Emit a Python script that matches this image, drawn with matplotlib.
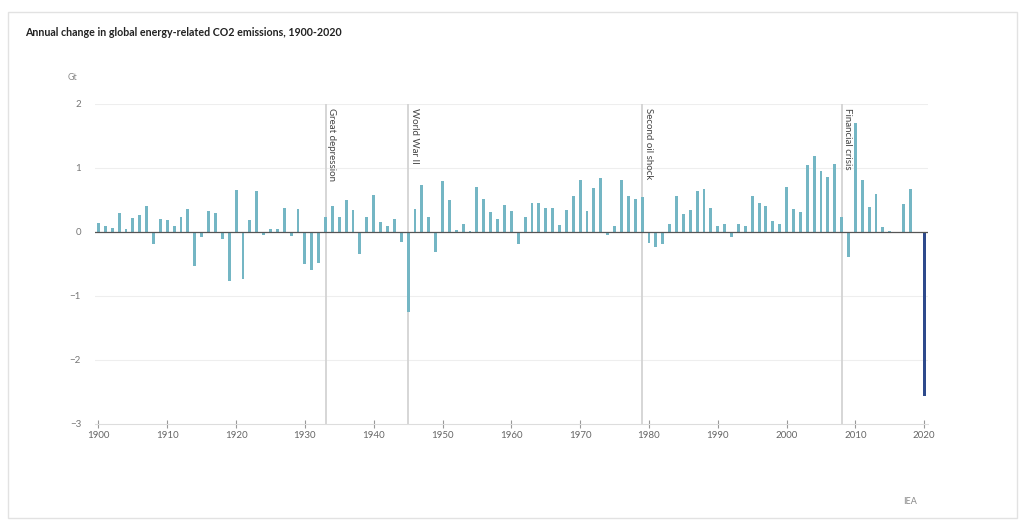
import matplotlib.pyplot as plt
from matplotlib.patches import Rectangle

# Annual change in global energy-related CO2 emissions (Gt), 1900-2020
years = list(range(1900, 2021))
change = [
    0.14, 0.09, 0.07, 0.29, 0.04, 0.22, 0.26, 0.41, -0.19, 0.20,
    0.19, 0.09, 0.24, 0.36, -0.53, -0.08, 0.33, 0.30, -0.11, -0.76,
    0.66, -0.74, 0.19, 0.64, -0.04, 0.05, 0.04, 0.38, -0.07, 0.36,
    -0.50, -0.59, -0.49, 0.23, 0.40, 0.24, 0.50, 0.35, -0.35, 0.24,
    0.58, 0.16, 0.09, 0.21, -0.16, -1.25, 0.36, 0.74, 0.24, -0.31,
    0.79, 0.50, 0.03, 0.12, 0.02, 0.70, 0.51, 0.31, 0.21, 0.42,
    0.33, -0.19, 0.23, 0.46, 0.46, 0.37, 0.38, 0.11, 0.35, 0.57,
    0.82, 0.33, 0.69, 0.84, -0.04, 0.09, 0.82, 0.57, 0.52, 0.54,
    -0.17, -0.24, -0.19, 0.12, 0.57, 0.28, 0.35, 0.64, 0.67, 0.38,
    0.09, 0.12, -0.08, 0.12, 0.10, 0.57, 0.46, 0.40, 0.17, 0.13,
    0.70, 0.36, 0.31, 1.05, 1.18, 0.96, 0.86, 1.06, 0.24, -0.39,
    1.70, 0.81, 0.39, 0.59, 0.08, 0.01, -0.02, 0.44, 0.67, -0.02,
    -2.56,
]
events = [1933, 1945, 1979, 2008]
event_labels = ["Great depression", "World War II", "Second oil shock", "Financial crisis"]
yticks = [-3, -2, -1, 0, 1, 2]
xticks = list(range(1900, 2021, 10))

plt.rcParams['font.family'] = ['Lato', 'DejaVu Sans']

fig = plt.figure(figsize=(10.24, 5.25), dpi=100)
fig.patches.append(Rectangle((8 / 1024, 1 - 518 / 525), 1009 / 1024, 506 / 525,
                             transform=fig.transFigure, fill=False,
                             edgecolor="#e2e2e2", linewidth=1))
ax = fig.add_axes([95 / 1024, 1 - 424 / 525, 833 / 1024, 320 / 525])

colors = ["#74b6c4"] * (len(years) - 1) + ["#2e4a8c"]
ax.bar(years, change, width=0.42, color=colors, zorder=3)
ax.axhline(0, color="#555555", linewidth=0.9, zorder=4)

for y in [-2, -1, 1, 2]:
    ax.axhline(y, color="#eeeeee", linewidth=0.8, zorder=1)

for yr, lab in zip(events, event_labels):
    ax.axvline(yr, color="#d0d0d0", linewidth=1.2, zorder=2)
    ax.text(yr + 0.25, 1.94, lab, rotation=270, ha="left", va="top",
            fontsize=7, color="#444444", zorder=5)

ax.set_xlim(1899.5, 2020.55)
ax.set_ylim(-3, 2)
ax.set_yticks(yticks)
ax.set_xticks(xticks)
ax.tick_params(axis="y", length=0, labelsize=7, labelcolor="#777777", pad=10)
ax.tick_params(axis="x", length=6, direction="inout", color="#999999",
               labelsize=7, labelcolor="#666666", pad=2)
for s in ["top", "right", "left"]:
    ax.spines[s].set_visible(False)
ax.spines["bottom"].set_color("#dddddd")

fig.text(25 / 1024, 1 - 32 / 525, "Annual change in global energy-related CO2 emissions, 1900-2020",
         fontsize=7.7, fontweight="bold", color="#222222", va="center")
fig.text(73 / 1024, 1 - 78 / 525, "Gt", fontsize=6.5, color="#888888", va="center", ha="center")
fig.text(910 / 1024, 1 - 501 / 525, "IEA", fontsize=6.5, color="#888888", va="center", ha="center")

fig.savefig("out.png", dpi=100)
